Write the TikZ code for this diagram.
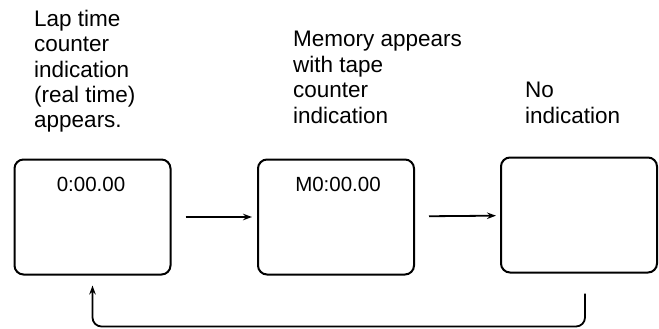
\documentclass[tikz,border=0pt]{standalone}
\usepackage{fontspec}
\setmainfont{Liberation Sans}
\usepackage{tikz}
\usetikzlibrary{arrows.meta, positioning, calc}

\begin{document}
\begin{tikzpicture}[x=1pt, y=-1pt,
  screen/.style={draw, rounded corners=9pt, line width=2pt,
                 minimum width=156pt, minimum height=115pt, inner sep=0pt},
  readout/.style={font=\fontsize{20.5}{24}\selectfont, inner sep=0pt},
  caption/.style={align=left, inner sep=0pt,
                  font=\fontsize{22.5}{25.5}\selectfont},
  flow/.style={line width=1.8pt, -{Stealth[length=9pt, width=6.5pt]}}
]
  \useasboundingbox (0,0) rectangle (659,329);

  % Display panels (three states)
  \node[screen] (box1) at (92.5,217) {};
  \node[screen] (box2) at (336,217)  {};
  \node[screen] (box3) at (579,215)  {};

  % Readouts shown in the panels
  \node[readout, anchor=base] (r1) at (91,191)  {0:00.00};
  \node[readout, anchor=base] (r2) at (338,191) {M0:00.00};

  % Captions above the panels (anchored on the last line)
  \node[caption, anchor=base west] (cap1) at (34,128)
    {Lap time\\counter\\indication\\(real time)\\appears.};
  \node[caption, anchor=base west] (cap2) at (293,123)
    {Memory appears\\with tape\\counter\\indication};
  \node[caption, anchor=base west] (cap3) at (525,123)
    {No\\indication};

  % Steps from one state to the next
  \draw[flow, shorten <=14pt, shorten >=5pt] (box1) -- (box2);
  \draw[flow, shorten <=14pt, shorten >=4pt] (box2) -- (box3);

  % Back to the first state
  \draw[flow, rounded corners=9pt]
    ([xshift=6pt, yshift=-20pt]box3.south)
    |- ([yshift=-51pt]box1.south) -- ([yshift=-10pt]box1.south);
\end{tikzpicture}
\end{document}
